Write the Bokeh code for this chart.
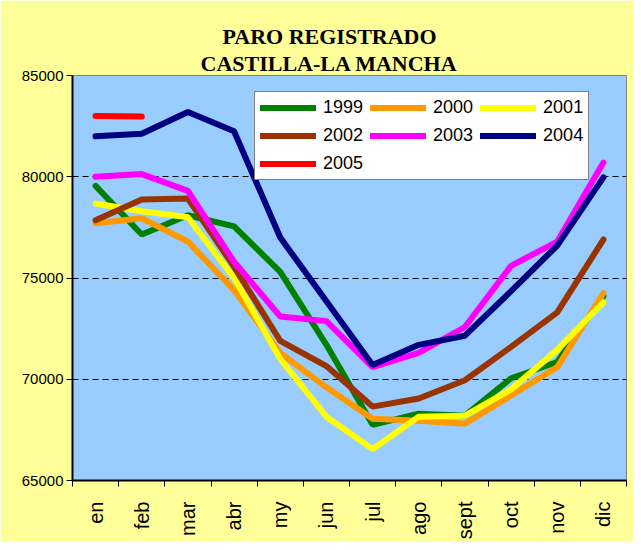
import math
from bokeh.plotting import figure
from bokeh.models import (FactorRange, Range1d, LinearAxis, FixedTicker,
                          NumeralTickFormatter, Title)
from bokeh.embed import file_html
from bokeh.resources import INLINE

# ---- data ----
months = ["en", "feb", "mar", "abr", "my", "jun", "jul", "ago", "sept", "oct", "nov", "dic"]
years = ["1999", "2000", "2001", "2002", "2003", "2004", "2005"]

y1999 = [79550, 77150, 78100, 77550, 75300, 71700, 67750, 68300, 68200, 70050, 70850, 74100]
y2000 = [77700, 77950, 76800, 74400, 71300, 69600, 68050, 67950, 67800, 69200, 70600, 74250]
y2001 = [78680, 78300, 78000, 75000, 71000, 68150, 66550, 68150, 68200, 69500, 71450, 73800]
y2002 = [77850, 78880, 78920, 75550, 71900, 70650, 68650, 69050, 69950, 71600, 73300, 76900]
y2003 = [80000, 80130, 79300, 75800, 73100, 72870, 70600, 71300, 72580, 75600, 76800, 80700]
y2004 = [82000, 82120, 83200, 82250, 77000, 73850, 70700, 71700, 72150, 74350, 76600, 79970]
y2005 = [83000, 82970]

series = [y1999, y2000, y2001, y2002, y2003, y2004, y2005]
colors = ["#008000", "#FF9900", "#FFFF00", "#993300", "#FF00FF", "#000080", "#FF0000"]

y_ticks = [65000, 70000, 75000, 80000, 85000]
title_lines = ["PARO REGISTRADO", "CASTILLA-LA MANCHA"]

# ---- figure ----
p = figure(width=633, height=542,
           x_range=FactorRange(factors=months, range_padding=0),
           y_range=Range1d(65000, 85000),
           output_backend="svg", toolbar_location=None,
           min_border_left=72, min_border_top=75, min_border_right=7, min_border_bottom=58,
           background_fill_color="#99CCFF", border_fill_color="#FFFF99",
           outline_line_color="#808080", outline_line_width=1)

# y axis
yax = p.yaxis[0]
yax.ticker = FixedTicker(ticks=y_ticks)
yax.formatter = NumeralTickFormatter(format="0")
yax.axis_line_color = "black"
yax.axis_line_width = 2
yax.major_tick_out = 6
yax.major_tick_in = 0
yax.major_tick_line_color = "black"
yax.minor_tick_line_color = None
yax.major_label_text_font = "Liberation Sans"
yax.major_label_text_font_size = "15px"
yax.major_label_text_color = "black"
yax.major_label_standoff = 3

# grids
p.xgrid.visible = False
p.ygrid.grid_line_color = "black"
p.ygrid.grid_line_dash = "6 4"
p.ygrid.grid_line_width = 1

# x axis: boundary ticks axis + category labels axis
xcat = p.xaxis[0]
xcat.axis_line_color = None
xcat.major_tick_line_color = None
xcat.minor_tick_line_color = None
xcat.major_label_orientation = math.pi / 2
xcat.major_label_text_font = "Liberation Sans"
xcat.major_label_text_font_size = "20px"
xcat.major_label_text_color = "black"
xcat.major_label_standoff = 9

xticks = LinearAxis(ticker=FixedTicker(ticks=list(range(len(months) + 1))))
xticks.axis_line_color = "black"
xticks.axis_line_width = 2
xticks.major_tick_out = 6
xticks.major_tick_in = 0
xticks.major_tick_line_color = "black"
xticks.minor_tick_line_color = None
xticks.major_label_text_font_size = "0px"
xticks.major_label_standoff = 0
xticks.major_label_overrides = {i: "" for i in range(len(months) + 1)}
p.add_layout(xticks, "below")
p.below = [xticks, xcat]

# lines
for yr, vals, c in zip(years, series, colors):
    p.line(months[:len(vals)], vals, color=c, line_width=6, line_cap="round",
           legend_label=yr)

# legend
lg = p.legend[0]
lg.location = (182, 300)
lg.orientation = "horizontal"
lg.ncols = 3
lg.border_line_color = "black"
lg.border_line_width = 1
lg.background_fill_color = "white"
lg.background_fill_alpha = 1
lg.label_text_font = "Liberation Sans"
lg.label_text_font_size = "18px"
lg.label_text_color = "black"
lg.glyph_width = 56
lg.glyph_height = 21
lg.label_height = 21
lg.label_standoff = 7
lg.spacing = 7
lg.padding = 5
lg.margin = 0

# title (two lines, closest line added first)
for txt, off in ((title_lines[1], 128), (title_lines[0], 150)):
    p.add_layout(Title(text=txt, align="left", offset=off, standoff=0,
                       text_font="Liberation Serif", text_font_style="bold",
                       text_font_size="22px", text_color="black"), "above")

open("out.html", "w").write(file_html(p, INLINE))
